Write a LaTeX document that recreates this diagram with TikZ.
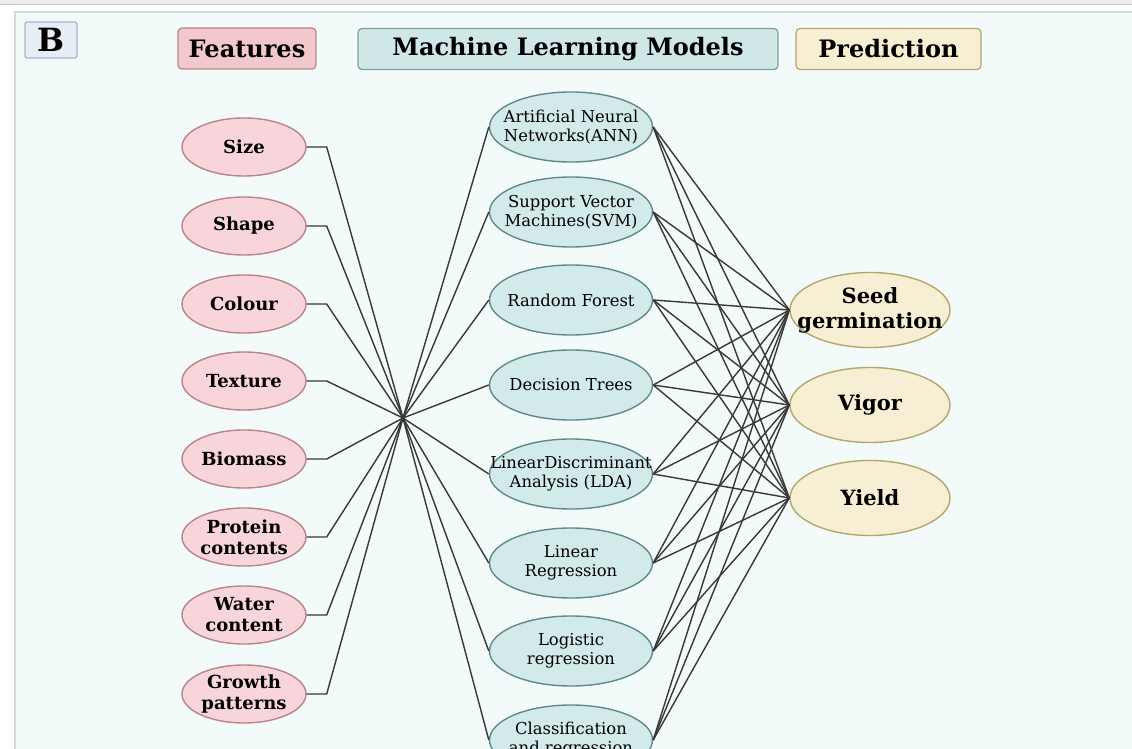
\documentclass[tikz,border=0pt]{standalone}
\usepackage{fontspec}
\setmainfont{DejaVu Serif}
\usetikzlibrary{shapes.geometric}

\definecolor{panelbg}{HTML}{F3FAFA}
\definecolor{panelline}{HTML}{D3DADA}
\definecolor{boxBfill}{HTML}{E6EDF5}
\definecolor{boxBline}{HTML}{A9B6C6}
\definecolor{featfill}{HTML}{F8D5DA}
\definecolor{featline}{HTML}{B9848A}
\definecolor{feathead}{HTML}{F2C8CC}
\definecolor{modfill}{HTML}{D2EBEA}
\definecolor{modline}{HTML}{5F8A89}
\definecolor{modhead}{HTML}{CFE7E7}
\definecolor{predfill}{HTML}{F6EFD3}
\definecolor{predline}{HTML}{B3A76A}
\definecolor{predhead}{HTML}{F7EFD2}
\definecolor{wirecol}{HTML}{383838}

\tikzset{
  oval/.style={ellipse, line width=0.7pt, inner xsep=-14pt, inner ysep=0pt, align=center},
  feat/.style={oval, draw=featline, fill=featfill, minimum width=62pt, minimum height=29pt,
    font=\fontsize{9}{10.5}\selectfont\bfseries},
  model/.style={oval, draw=modline, fill=modfill, minimum width=81.5pt, minimum height=35pt,
    font=\fontsize{8.2}{9.5}\selectfont},
  pred/.style={oval, draw=predline, fill=predfill, minimum width=80pt, minimum height=37.5pt,
    font=\fontsize{10.5}{12.5}\selectfont\bfseries},
  head/.style={rectangle, rounded corners=2pt, line width=0.6pt, minimum height=20.5pt,
    inner sep=0pt, font=\fontsize{12}{14}\selectfont\bfseries},
  wire/.style={draw=wirecol, line width=0.7pt}
}

\begin{document}
\begin{tikzpicture}[x=0.5pt,y=-0.5pt]
\useasboundingbox (0,0) rectangle (1132,749);
\clip (0,0) rectangle (1132,749);

% background and panel frame
\fill[white] (0,0) rectangle (1132,749);
\fill[gray!15] (0,0) rectangle (1132,4);
\draw[gray!45, line width=0.8pt] (0,4.5) -- (1132,4.5);
\draw[draw=panelline, fill=panelbg, line width=0.6pt] (15,12) rectangle (1150,770);

% panel letter and headers
\node[head, draw=boxBline, fill=boxBfill, minimum width=26pt, minimum height=18pt,
  rounded corners=1pt, font=\fontsize{16}{18}\selectfont\bfseries] (lab) at (51,40) {B};
\node[head, draw=featline, fill=feathead, minimum width=69pt] (hfeat) at (247,48.5) {Features};
\node[head, draw=modline!80, fill=modhead, minimum width=210pt] (hmod) at (568,49) {Machine Learning Models};
\node[head, draw=predline, fill=predhead, minimum width=92.5pt] (hpred) at (888.5,49) {Prediction};

% features
\foreach \name/\txt/\y in {f1/Size/147, f2/Shape/226, f3/Colour/304, f4/Texture/381,
    f5/Biomass/459, f6/{Protein\\contents}/537, f7/{Water\\content}/615, f8/{Growth\\patterns}/694}
  \node[feat] (\name) at (244,\y) {\txt};

% models
\foreach \name/\txt/\y in {m1/{Artificial Neural\\Networks(ANN)}/127,
    m2/{Support Vector\\Machines(SVM)}/212, m3/Random Forest/300, m4/Decision Trees/385,
    m5/{LinearDiscriminant\\Analysis (LDA)}/474, m6/{Linear\\Regression}/563,
    m7/{Logistic\\regression}/651, m8/{Classification\\and regression}/740}
  \node[model] (\name) at (571,\y) {\txt};

% predictions
\node[pred] (p1) at (870,310) {Seed\\germination};
\node[pred] (p2) at (870,405) {Vigor};
\node[pred] (p3) at (870,498) {Yield};

% draw connectors
\coordinate (hub) at (403,418);
\foreach \i in {1,...,8}
  \draw[wire] (f\i.east) -- ++(20,0) -- (hub);
\foreach \i in {1,...,8} {
  \draw[wire] (hub) -- (m\i.west);
  \foreach \j in {1,2,3}
    \draw[wire] (m\i.east) -- (p\j.west);
}

\end{tikzpicture}
\end{document}
